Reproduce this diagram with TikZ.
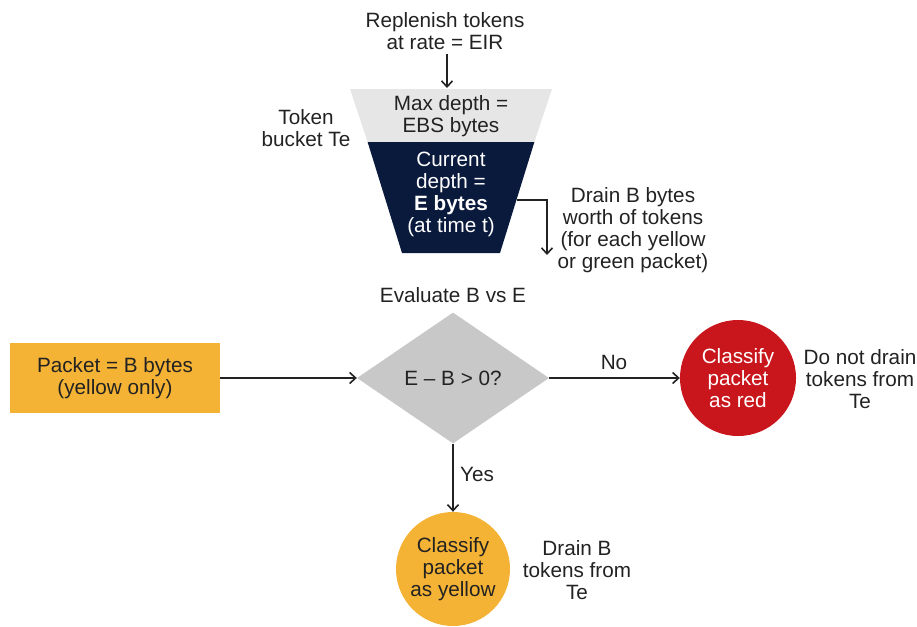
\documentclass[tikz,border=0pt]{standalone}
\usepackage{fontspec}
\setmainfont{Liberation Sans}
\usetikzlibrary{shapes.geometric,arrows.meta}
\definecolor{navy}{HTML}{0A1A3C}
\definecolor{lightg}{HTML}{E6E6E6}
\definecolor{diag}{HTML}{C8C8C8}
\definecolor{orng}{HTML}{F5B335}
\definecolor{redc}{HTML}{C8161C}
\definecolor{ink}{HTML}{222222}
\begin{document}
\begin{tikzpicture}[x=1pt,y=-1pt,
  txt/.style={align=center,text=ink,font=\fontsize{20.7}{22}\selectfont,inner sep=0pt},
  wtxt/.style={txt,text=white},
  conn/.style={draw=ink,line width=1.8pt,-{Straight Barb[length=6pt,width=11pt,line width=1.6pt]}},
  circ/.style={circle,inner sep=0pt,minimum size=#1,draw=none}
]
\useasboundingbox (0,0) rectangle (917,626);
% bucket
\fill[lightg] (350,89) -- (552,89) -- (534.4,142) -- (367.6,142) -- cycle;
\fill[navy] (367.6,142) -- (534.4,142) -- (500,253) -- (402,253) -- cycle;
\node[txt] (rep) at (445,31) {\fontsize{20.7}{24}\selectfont Replenish tokens\\at rate = EIR};
\coordinate (bucktop) at (447,88);
\draw[conn] (rep.south) ++(2,4) coordinate (repb) (repb) -- (bucktop);
\node[txt] (maxd) at (451,116) {Max depth =\\EBS bytes};
\node[wtxt] (curd) at (451,194) {Current\\depth =\\\textbf{E bytes}\\(at time t)};
\node[txt] (tb) at (306,128) {Token\\bucket Te};
\coordinate (drainstart) at (517,200);
\coordinate (draintip) at (547,255);
\draw[conn] (drainstart) -| (draintip);
\node[txt] (drain) at (633,230) {Drain B bytes\\worth of tokens\\(for each yellow\\or green packet)};
% decision
\node[txt] (eval) at (453,295) {Evaluate B vs E};
\node[diamond,aspect=1.466,inner sep=0pt,minimum width=192pt,minimum height=131pt,fill=diag,draw=none,txt] (dec) at (453,378) {E -- B > 0?};
\node[rectangle,fill=orng,minimum width=210pt,minimum height=70pt,txt] (pkt) at (115,378) {Packet = B bytes\\(yellow only)};
\draw[conn] (pkt.east) -- (dec.west);
\node[circ=116pt,fill=redc,wtxt] (red) at (738,378) {Classify\\packet\\as red};
\draw[conn] (dec.east) -- (red.west);
\node[txt] (no) at (614,362) {No};
\node[txt] (nodrain) at (860,379) {Do not drain\\tokens from\\Te};
\node[circ=114pt,fill=orng,txt] (yel) at (453,569) {Classify\\packet\\as yellow};
\draw[conn] (dec.south) -- (yel.north);
\node[txt] (yes) at (477,474) {Yes};
\node[txt] (drainb) at (577,570) {Drain B\\tokens from\\Te};
\end{tikzpicture}
\end{document}
